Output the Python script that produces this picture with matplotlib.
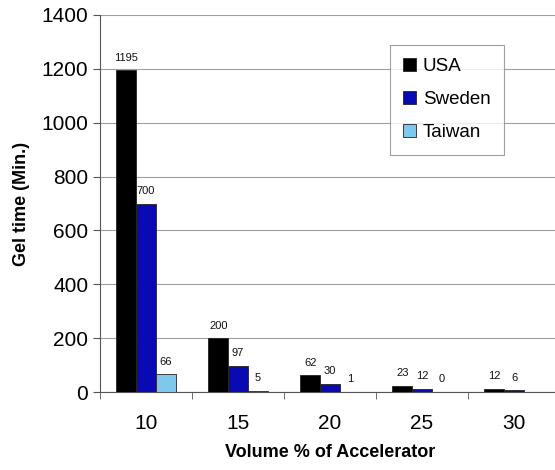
import matplotlib
matplotlib.use("Agg")
import matplotlib.pyplot as plt
import numpy as np

categories = ["10", "15", "20", "25", "30"]
usa = [1195, 200, 62, 23, 12]
sweden = [700, 97, 30, 12, 6]
taiwan = [66, 5, 1, 0, np.nan]
series = [("USA", usa, "#000000"), ("Sweden", sweden, "#0a0ab4"), ("Taiwan", taiwan, "#7ec8ee")]

plt.rcParams['font.family'] = ['Liberation Sans', 'DejaVu Sans']

fig = plt.figure(figsize=(5.55, 4.7), dpi=100)
ax = fig.add_axes([100/555, (470-392)/470, 460/555, (392-15)/470])

x = np.arange(len(categories))
w = 0.215
for i, (name, vals, col) in enumerate(series):
    pos = x + (i - 1) * w
    v = np.array(vals, dtype=float)
    ax.bar(pos, v, w, color=col, edgecolor="#222222", linewidth=0.6, label=name, zorder=3)
    for p, val in zip(pos, v):
        if np.isnan(val):
            continue
        ax.text(p, val + 28, f"{int(val)}", ha="center", va="bottom", fontsize=8, color="#111111", zorder=4)

ax.set_xlim(-0.5, len(categories) - 0.5)
ax.set_ylim(0, 1400)
ax.set_yticks(np.arange(0, 1401, 200))
ax.yaxis.grid(True, color="#a0a0a0", linewidth=0.8, zorder=0)
ax.set_axisbelow(True)
ax.set_xticks(x)
ax.set_xticklabels(categories, fontsize=15)
ax.set_xticks(np.arange(-0.5, len(categories), 1), minor=True)
ax.tick_params(axis="x", which="major", length=0, pad=16)
ax.tick_params(axis="x", which="minor", length=5, direction="out", color="#555555")
ax.tick_params(axis="y", labelsize=15, length=5, color="#555555")
for s in ["top", "right"]:
    ax.spines[s].set_visible(False)
ax.spines["left"].set_color("#555555")
ax.spines["bottom"].set_color("#555555")

ax.set_ylabel("Gel time (Min.)", fontsize=13, fontweight="bold", labelpad=8)
ax.set_xlabel("Volume % of Accelerator", fontsize=13, fontweight="bold", labelpad=8)

leg = ax.legend(loc="upper left", bbox_to_anchor=((390-100)/460, (392-45)/377), borderaxespad=0,
                fontsize=13.5, frameon=True, fancybox=False, edgecolor="#888888", handlelength=0.7,
                handleheight=0.7, handletextpad=0.35, labelspacing=0.85, borderpad=0.7)
leg.get_frame().set_linewidth(0.8)

fig.savefig("out.png", dpi=100)
